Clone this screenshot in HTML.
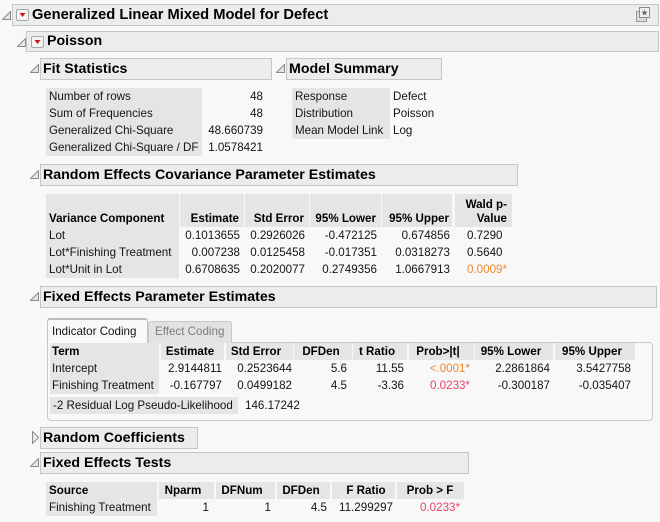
<!DOCTYPE html>
<html><head><meta charset="utf-8">
<style>
html,body{margin:0;padding:0}
body{width:660px;height:522px;background:#f8f8f8;position:relative;overflow:hidden;font-family:"Liberation Sans",Arial,sans-serif;color:#141414}
.hb{position:absolute;background:#ececec;border:1px solid #c6c6c6;box-sizing:border-box}
.ht{position:absolute;font-weight:bold;font-size:14.2px;white-space:nowrap;color:#000}
.t{position:absolute;font-size:11.6px;line-height:17px;height:17px;white-space:nowrap}
.b{font-weight:bold;color:#000}
.r{text-align:right}
.ce{text-align:center}
.bg{position:absolute;background:#e5e5e5}
.tri{position:absolute}
.btn{position:absolute;width:13px;height:12px;border:1px solid #a8a8a8;background:#f4f4f4;box-sizing:border-box;border-radius:2px}
.or{color:#f0892e}
.rd{color:#ee3f66}
</style></head><body>

<!-- Main header -->
<svg class="tri" style="left:2px;top:11px" width="9" height="9"><polygon points="8.5,0.5 8.5,8.5 0.5,8.5" fill="#e6e6e6" stroke="#8a8a8a"/></svg>
<div class="hb" style="left:12px;top:4px;width:647px;height:22px"></div>
<div class="btn" style="left:16px;top:9px"><svg width="11" height="10" style="position:absolute;left:0;top:0"><polygon points="2.5,3 8.5,3 5.5,7" fill="#d01515"/></svg></div>
<div class="ht" style="left:32px;top:4px;line-height:22px;font-size:14.7px">Generalized Linear Mixed Model for Defect</div>
<svg class="tri" style="left:636px;top:6px" width="16" height="18">
<rect x="0.5" y="5.5" width="10" height="10" fill="#dcdcdc" stroke="#9a9a9a"/>
<rect x="3.5" y="1.5" width="10" height="10" fill="#f0f0f0" stroke="#8a8a8a"/>
<polygon points="8.5,3.5 9.4,5.7 11.6,5.8 9.9,7.2 10.5,9.4 8.5,8.2 6.5,9.4 7.1,7.2 5.4,5.8 7.6,5.7" fill="#6a6a6a"/>
</svg>

<!-- Poisson -->
<svg class="tri" style="left:17px;top:38px" width="9" height="9"><polygon points="8.5,0.5 8.5,8.5 0.5,8.5" fill="#e6e6e6" stroke="#8a8a8a"/></svg>
<div class="hb" style="left:26px;top:31px;width:633px;height:21px"></div>
<div class="btn" style="left:31px;top:36px"><svg width="11" height="10" style="position:absolute;left:0;top:0"><polygon points="2.5,3 8.5,3 5.5,7" fill="#d01515"/></svg></div>
<div class="ht" style="left:47px;top:31px;line-height:21px">Poisson</div>

<!-- Fit Statistics -->
<svg class="tri" style="left:30px;top:64px" width="9" height="9"><polygon points="8.5,0.5 8.5,8.5 0.5,8.5" fill="#e6e6e6" stroke="#8a8a8a"/></svg>
<div class="hb" style="left:40px;top:58px;width:232px;height:22px"></div>
<div class="ht" style="left:43px;top:58px;line-height:22px">Fit Statistics</div>

<div class="bg" style="left:46px;top:88px;width:156px;height:68px"></div>
<div class="t" style="left:49px;top:88px">Number of rows</div>
<div class="t" style="left:49px;top:105px">Sum of Frequencies</div>
<div class="t" style="left:49px;top:122px">Generalized Chi-Square</div>
<div class="t" style="left:49px;top:139px">Generalized Chi-Square / DF</div>
<div class="t r" style="left:200px;top:88px;width:63px">48</div>
<div class="t r" style="left:200px;top:105px;width:63px">48</div>
<div class="t r" style="left:200px;top:122px;width:63px">48.660739</div>
<div class="t r" style="left:200px;top:139px;width:63px">1.0578421</div>

<!-- Model Summary -->
<svg class="tri" style="left:276px;top:64px" width="9" height="9"><polygon points="8.5,0.5 8.5,8.5 0.5,8.5" fill="#e6e6e6" stroke="#8a8a8a"/></svg>
<div class="hb" style="left:286px;top:58px;width:156px;height:22px"></div>
<div class="ht" style="left:289px;top:58px;line-height:22px">Model Summary</div>

<div class="bg" style="left:292px;top:88px;width:98px;height:51px"></div>
<div class="t" style="left:295px;top:88px">Response</div>
<div class="t" style="left:295px;top:105px">Distribution</div>
<div class="t" style="left:295px;top:122px">Mean Model Link</div>
<div class="t" style="left:393px;top:88px">Defect</div>
<div class="t" style="left:393px;top:105px">Poisson</div>
<div class="t" style="left:393px;top:122px">Log</div>

<!-- Random Effects -->
<svg class="tri" style="left:30px;top:170px" width="9" height="9"><polygon points="8.5,0.5 8.5,8.5 0.5,8.5" fill="#e6e6e6" stroke="#8a8a8a"/></svg>
<div class="hb" style="left:40px;top:164px;width:478px;height:22px"></div>
<div class="ht" style="left:43px;top:164px;line-height:22px">Random Effects Covariance Parameter Estimates</div>

<div class="bg" style="left:46px;top:194px;width:133px;height:84px"></div>
<div class="bg" style="left:180px;top:194px;width:64px;height:33px"></div>
<div class="bg" style="left:245px;top:194px;width:64px;height:33px"></div>
<div class="bg" style="left:310px;top:194px;width:71px;height:33px"></div>
<div class="bg" style="left:382px;top:194px;width:70px;height:33px"></div>
<div class="bg" style="left:455px;top:194px;width:57px;height:33px"></div>

<div class="t b" style="left:49px;top:210px">Variance Component</div>
<div class="t b r" style="left:170px;top:210px;width:69px">Estimate</div>
<div class="t b r" style="left:235px;top:210px;width:69px">Std Error</div>
<div class="t b r" style="left:300px;top:210px;width:76px">95% Lower</div>
<div class="t b r" style="left:373px;top:210px;width:76px">95% Upper</div>
<div class="t b r" style="left:440px;top:196px;width:67px">Wald p-</div>
<div class="t b r" style="left:440px;top:210px;width:67px">Value</div>

<div class="t" style="left:49px;top:227px">Lot</div>
<div class="t" style="left:49px;top:244px">Lot*Finishing Treatment</div>
<div class="t" style="left:49px;top:261px">Lot*Unit in Lot</div>
<div class="t r" style="left:170px;top:227px;width:70px">0.1013655</div>
<div class="t r" style="left:170px;top:244px;width:70px">0.007238</div>
<div class="t r" style="left:170px;top:261px;width:70px">0.6708635</div>
<div class="t r" style="left:235px;top:227px;width:70px">0.2926026</div>
<div class="t r" style="left:235px;top:244px;width:70px">0.0125458</div>
<div class="t r" style="left:235px;top:261px;width:70px">0.2020077</div>
<div class="t r" style="left:300px;top:227px;width:77px">-0.472125</div>
<div class="t r" style="left:300px;top:244px;width:77px">-0.017351</div>
<div class="t r" style="left:300px;top:261px;width:77px">0.2749356</div>
<div class="t r" style="left:370px;top:227px;width:80px">0.674856</div>
<div class="t r" style="left:370px;top:244px;width:80px">0.0318273</div>
<div class="t r" style="left:370px;top:261px;width:80px">1.0667913</div>
<div class="t" style="left:467px;top:227px">0.7290</div>
<div class="t" style="left:467px;top:244px">0.5640</div>
<div class="t or" style="left:467px;top:261px">0.0009*</div>

<!-- Fixed Effects Parameter Estimates -->
<svg class="tri" style="left:30px;top:292px" width="9" height="9"><polygon points="8.5,0.5 8.5,8.5 0.5,8.5" fill="#e6e6e6" stroke="#8a8a8a"/></svg>
<div class="hb" style="left:40px;top:286px;width:617px;height:22px"></div>
<div class="ht" style="left:43px;top:286px;line-height:22px">Fixed Effects Parameter Estimates</div>

<div style="position:absolute;left:47px;top:342px;width:606px;height:79px;border:1px solid #c8c8c8;box-sizing:border-box;border-radius:0 4px 4px 4px"></div>
<div style="position:absolute;left:148px;top:321px;width:84px;height:22px;background:#e2e2e2;border:1px solid #c8c8c8;border-bottom:none;box-sizing:border-box;border-radius:3px 3px 0 0"></div>
<div style="position:absolute;left:47px;top:318px;width:101px;height:26px;background:#f8f8f8;border:1px solid #c4c4c4;border-top:2px solid #bcbcbc;border-bottom:none;box-sizing:border-box;border-radius:3px 3px 0 0"></div>
<div class="t" style="left:52px;top:323px">Indicator Coding</div>
<div class="t" style="left:155px;top:323px;color:#7c7c7c">Effect Coding</div>

<div class="bg" style="left:50px;top:343px;width:109px;height:51px"></div>
<div class="bg" style="left:161px;top:343px;width:63px;height:17px"></div>
<div class="bg" style="left:226px;top:343px;width:67px;height:17px"></div>
<div class="bg" style="left:294px;top:343px;width:58px;height:17px"></div>
<div class="bg" style="left:353px;top:343px;width:54px;height:17px"></div>
<div class="bg" style="left:409px;top:343px;width:65px;height:17px"></div>
<div class="bg" style="left:475px;top:343px;width:78px;height:17px"></div>
<div class="bg" style="left:555px;top:343px;width:80px;height:17px"></div>

<div class="t b" style="left:52px;top:343px">Term</div>
<div class="t b ce" style="left:140px;top:343px;width:100px">Estimate</div>
<div class="t b ce" style="left:206px;top:343px;width:100px">Std Error</div>
<div class="t b ce" style="left:271px;top:343px;width:100px">DFDen</div>
<div class="t b ce" style="left:327px;top:343px;width:100px">t Ratio</div>
<div class="t b ce" style="left:388px;top:343px;width:100px">Prob&gt;|t|</div>
<div class="t b ce" style="left:461px;top:343px;width:100px">95% Lower</div>
<div class="t b ce" style="left:542px;top:343px;width:100px">95% Upper</div>

<div class="t" style="left:52px;top:360px">Intercept</div>
<div class="t" style="left:52px;top:377px">Finishing Treatment</div>
<div class="t r" style="left:150px;top:360px;width:72px">2.9144811</div>
<div class="t r" style="left:150px;top:377px;width:72px">-0.167797</div>
<div class="t r" style="left:220px;top:360px;width:72px">0.2523644</div>
<div class="t r" style="left:220px;top:377px;width:72px">0.0499182</div>
<div class="t r" style="left:300px;top:360px;width:47px">5.6</div>
<div class="t r" style="left:300px;top:377px;width:47px">4.5</div>
<div class="t r" style="left:350px;top:360px;width:54px">11.55</div>
<div class="t r" style="left:350px;top:377px;width:54px">-3.36</div>
<div class="t r or" style="left:410px;top:360px;width:60px">&lt;.0001*</div>
<div class="t r rd" style="left:410px;top:377px;width:60px">0.0233*</div>
<div class="t r" style="left:470px;top:360px;width:80px">2.2861864</div>
<div class="t r" style="left:470px;top:377px;width:80px">-0.300187</div>
<div class="t r" style="left:551px;top:360px;width:80px">3.5427758</div>
<div class="t r" style="left:551px;top:377px;width:80px">-0.035407</div>

<div class="bg" style="left:50px;top:397px;width:188px;height:17px"></div>
<div class="t" style="left:53px;top:397px">-2 Residual Log Pseudo-Likelihood</div>
<div class="t" style="left:245px;top:397px">146.17242</div>

<!-- Random Coefficients -->
<svg class="tri" style="left:32px;top:431px" width="8" height="13"><polygon points="0.5,0.5 6.5,6.5 0.5,12.5" fill="#eeeeee" stroke="#8a8a8a"/></svg>
<div class="hb" style="left:40px;top:427px;width:158px;height:22px"></div>
<div class="ht" style="left:43px;top:427px;line-height:22px">Random Coefficients</div>

<!-- Fixed Effects Tests -->
<svg class="tri" style="left:30px;top:458px" width="9" height="9"><polygon points="8.5,0.5 8.5,8.5 0.5,8.5" fill="#e6e6e6" stroke="#8a8a8a"/></svg>
<div class="hb" style="left:40px;top:452px;width:429px;height:22px"></div>
<div class="ht" style="left:43px;top:452px;line-height:22px">Fixed Effects Tests</div>

<div class="bg" style="left:46px;top:482px;width:111px;height:34px"></div>
<div class="bg" style="left:159px;top:482px;width:55px;height:17px"></div>
<div class="bg" style="left:216px;top:482px;width:59px;height:17px"></div>
<div class="bg" style="left:277px;top:482px;width:53px;height:17px"></div>
<div class="bg" style="left:332px;top:482px;width:63px;height:17px"></div>
<div class="bg" style="left:397px;top:482px;width:67px;height:17px"></div>

<div class="t b" style="left:49px;top:482px">Source</div>
<div class="t b ce" style="left:133px;top:482px;width:100px">Nparm</div>
<div class="t b ce" style="left:192px;top:482px;width:100px">DFNum</div>
<div class="t b ce" style="left:251px;top:482px;width:100px">DFDen</div>
<div class="t b ce" style="left:316px;top:482px;width:100px">F Ratio</div>
<div class="t b ce" style="left:380px;top:482px;width:100px">Prob &gt; F</div>

<div class="t" style="left:49px;top:499px">Finishing Treatment</div>
<div class="t r" style="left:160px;top:499px;width:49px">1</div>
<div class="t r" style="left:220px;top:499px;width:51px">1</div>
<div class="t r" style="left:280px;top:499px;width:47px">4.5</div>
<div class="t r" style="left:330px;top:499px;width:63px">11.299297</div>
<div class="t r rd" style="left:400px;top:499px;width:60px">0.0233*</div>

</body></html>
